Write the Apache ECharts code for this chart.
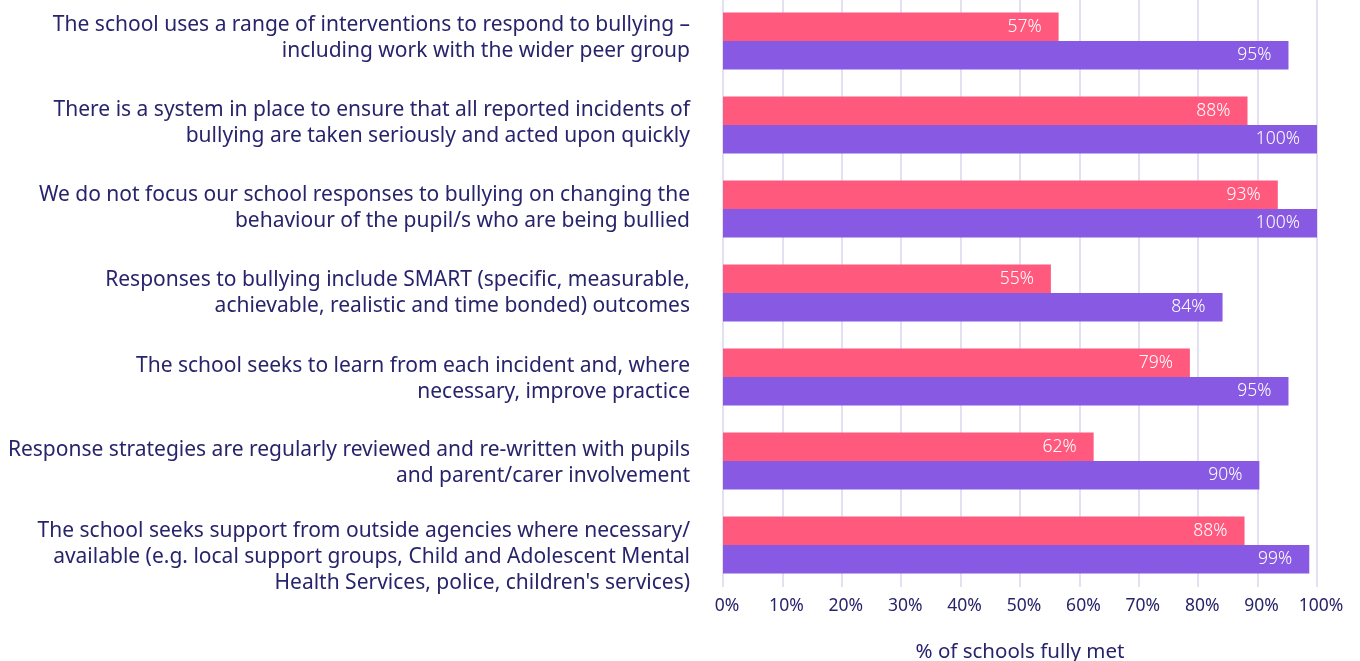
<!DOCTYPE html>
<html>
<head>
<meta charset="utf-8">
<script src="https://cdn.jsdelivr.net/npm/echarts@6/dist/echarts.min.js"></script>
<style>
html,body{margin:0;padding:0;background:#fff;}
#chart{width:1360px;height:661px;}
</style>
</head>
<body>
<div id="chart"></div>
<script>
const categories = [
  "The school uses a range of interventions to respond to bullying –\nincluding work with the wider peer group",
  "There is a system in place to ensure that all reported incidents of\nbullying are taken seriously and acted upon quickly",
  "We do not focus our school responses to bullying on changing the\nbehaviour of the pupil/s who are being bullied",
  "Responses to bullying include SMART (specific, measurable,\nachievable, realistic and time bonded) outcomes",
  "The school seeks to learn from each incident and, where\nnecessary, improve practice",
  "Response strategies are regularly reviewed and re-written with pupils\nand parent/carer involvement",
  "The school seeks support from outside agencies where necessary/\navailable (e.g. local support groups, Child and Adolescent Mental\nHealth Services, police, children's services)"
];
const pinkValues = [56.5, 88.3, 93.4, 55.2, 78.6, 62.4, 87.8];
const purpleValues = [95.2, 100, 100, 84.1, 95.2, 90.3, 98.7];
const xTicks = [0, 10, 20, 30, 40, 50, 60, 70, 80, 90, 100];
const xAxisTitle = "% of schools fully met";

const FONT = "Noto Sans";
const NAVY = "#27246b";
const chart = echarts.init(document.getElementById('chart'), null, {renderer: 'canvas'});
const barLabel = {
  show: true,
  position: 'insideRight',
  distance: 17,
  color: '#ffffff',
  fontFamily: FONT,
  fontSize: 17.5,
  fontWeight: 300,
  formatter: p => Math.round(p.value) + '%'
};
// vertical nudges of each category label (pixels, + = down)
const labelNudge = [-3, -2, -1, 0, 2, 2.5, 12];
const rich = {t: {color: NAVY, fontFamily: FONT, fontSize: 21, lineHeight: 26}};
labelNudge.forEach(n => {
  const h = Math.round(Math.abs(n) * 2);
  if (h > 0) rich['p' + h] = {fontSize: 1, lineHeight: h};
});
function catFormatter(value, index) {
  const body = value.split('\n').map(l => '{t|' + l + '}').join('\n');
  const n = labelNudge[index] || 0;
  const h = Math.round(Math.abs(n) * 2);
  if (h === 0) return body;
  return n < 0 ? body + '\n{p' + h + '| }' : '{p' + h + '| }\n' + body;
}
chart.setOption({
  animation: false,
  backgroundColor: '#ffffff',
  grid: {left: 723, right: 43, top: -1, height: 588, containLabel: false, outerBoundsMode: 'none'},
  xAxis: {
    type: 'value',
    min: xTicks[0],
    max: xTicks[xTicks.length - 1],
    interval: 10,
    axisLine: {show: false},
    axisTick: {show: false},
    splitLine: {show: true, lineStyle: {color: '#e3e0f2', width: 2}},
    axisLabel: {formatter: '{value}%', color: NAVY, fontFamily: FONT, fontSize: 17.5, margin: 10, padding: [0, 0, 0, 8]},
    name: xAxisTitle,
    nameLocation: 'middle',
    nameGap: 55,
    nameTextStyle: {color: NAVY, fontFamily: FONT, fontSize: 20.5}
  },
  yAxis: {
    type: 'category',
    data: categories,
    inverse: true,
    axisLine: {show: false},
    axisTick: {show: false},
    axisLabel: {color: NAVY, fontFamily: FONT, fontSize: 21, lineHeight: 26, margin: 33, align: 'right', formatter: catFormatter, rich: rich}
  },
  series: [
    {
      type: 'bar',
      data: pinkValues,
      barGap: '0%',
      barCategoryGap: '32%',
      itemStyle: {color: '#ff5a7e'},
      label: barLabel
    },
    {
      type: 'bar',
      data: purpleValues,
      barGap: '0%',
      barCategoryGap: '32%',
      itemStyle: {color: '#885ae3'},
      label: barLabel
    }
  ]
});
</script>
</body>
</html>
